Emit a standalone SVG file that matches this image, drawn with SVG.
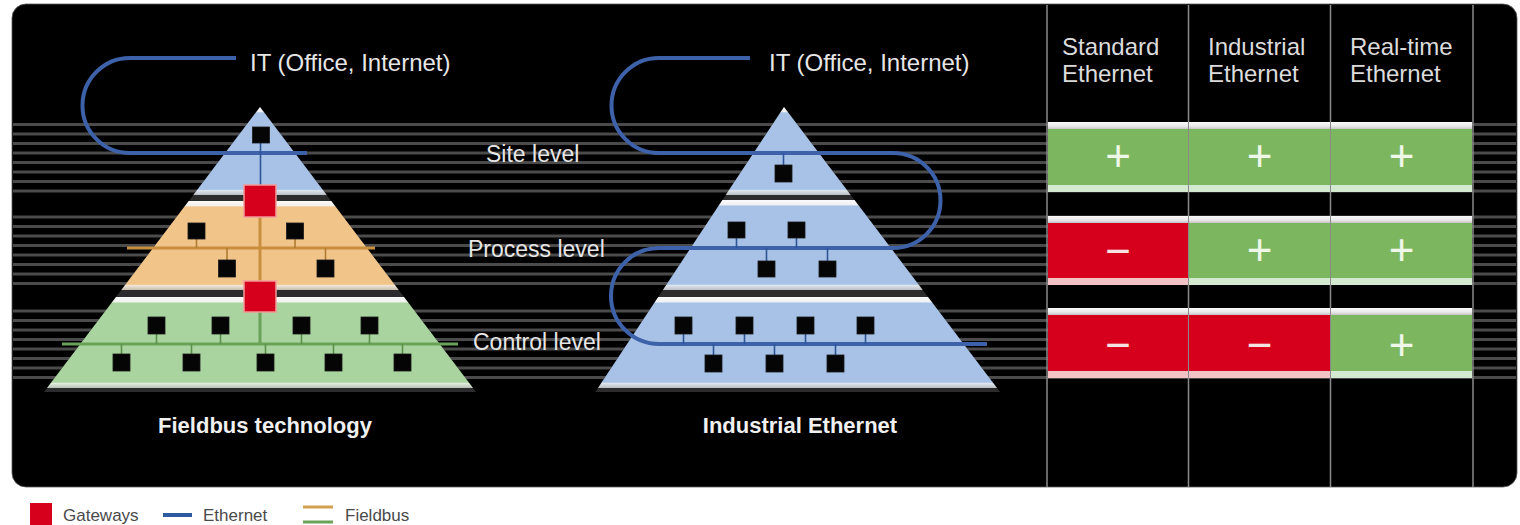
<svg xmlns="http://www.w3.org/2000/svg" width="1520" height="525" viewBox="0 0 1520 525">
<style>
text{font-family:"Liberation Sans",Arial,sans-serif}
.lbl{fill:#e6e6e6;font-size:23px}
.it{fill:#e6e6e6;font-size:24px}
.hdr{fill:#dcdcdc;font-size:24px}
.ttl{fill:#f0f0f0;font-size:22px;font-weight:bold}
.leg{fill:#4a4a4a;font-size:17px}
.pm{font-size:44px;text-anchor:middle}
.pp{fill:#eef7e8}
.mm{fill:#f7e2e2}
.dev{fill:#050505;stroke:#1a1a1a;stroke-width:0.8}
.gw{fill:#d6001c;stroke:#f29a9a;stroke-width:1.5}
.eth{fill:none;stroke:#3d62aa;stroke-width:4}
.ethT{fill:none;stroke:#2f5599;stroke-width:1.6}
.fbO{fill:none;stroke:#c8903e;stroke-width:3}
.fbOT{fill:none;stroke:#b07a30;stroke-width:1.6}
.fbG{fill:none;stroke:#6aa259;stroke-width:3}
.fbGT{fill:none;stroke:#5a9049;stroke-width:1.6}
.sil{fill:#2c2c2c}
.top{fill:url(#gTop)}
.grn{fill:#7cb65e}
.red{fill:#d6001c}
.gb{fill:#d4ead0}
.rb{fill:#f3c2c4}
.div{stroke:#8a8a8a;stroke-width:1.5}
</style>
<defs>
<linearGradient id="gBlue" x1="0" y1="0" x2="0" y2="1">
<stop offset="0" stop-color="#fafafa"/><stop offset="0.055" stop-color="#eef0f3"/><stop offset="0.066" stop-color="#a7c2e6"/><stop offset="0.935" stop-color="#a7c2e6"/><stop offset="0.95" stop-color="#dfe5ec"/><stop offset="1" stop-color="#b9bec4"/>
</linearGradient>
<linearGradient id="gOrange" x1="0" y1="0" x2="0" y2="1">
<stop offset="0" stop-color="#fafafa"/><stop offset="0.055" stop-color="#f2efe9"/><stop offset="0.066" stop-color="#f1c58a"/><stop offset="0.935" stop-color="#f1c58a"/><stop offset="0.95" stop-color="#f1e6d6"/><stop offset="1" stop-color="#c4bcb0"/>
</linearGradient>
<linearGradient id="gGreen" x1="0" y1="0" x2="0" y2="1">
<stop offset="0" stop-color="#fafafa"/><stop offset="0.055" stop-color="#eef2ec"/><stop offset="0.066" stop-color="#a9d49f"/><stop offset="0.935" stop-color="#a9d49f"/><stop offset="0.95" stop-color="#e0ecdc"/><stop offset="1" stop-color="#b8c0b6"/>
</linearGradient>
<linearGradient id="gTop" x1="0" y1="0" x2="0" y2="1">
<stop offset="0" stop-color="#fbfbfb"/><stop offset="0.6" stop-color="#e8e8e8"/><stop offset="1" stop-color="#c4c4c4"/>
</linearGradient>
</defs>

<rect x="0" y="0" width="1520" height="525" fill="#ffffff"/>
<rect id="panel" x="12" y="4" width="1505" height="483" rx="14" fill="#000000" stroke="#5a5a5a" stroke-width="0.8"/>

<g id="stripes">
<path stroke="#4b4b4b" stroke-width="3" fill="none" d="M13 124.5H1516M13 134H1516M13 143.5H1516M13 153H1516M13 162.5H1516M13 172H1516M13 181.5H1516M13 191H1516M13 217H1516M13 226.5H1516M13 236H1516M13 245.5H1516M13 255H1516M13 264.5H1516M13 274H1516M13 283.5H1516M13 311H1516M13 320.5H1516M13 330H1516M13 339.5H1516M13 349H1516M13 358.5H1516M13 368H1516M13 377.5H1516"/>
</g>

<g id="pyramid-fieldbus">
<polygon class="sil" points="260,107 476,392 44,392"/>
<polygon id="fb-site" fill="url(#gBlue)" points="260,107 326.7,195 193.3,195"/>
<polygon id="fb-process" fill="url(#gOrange)" points="188.7,201 331.3,201 398.7,290 121.3,290"/>
<polygon id="fb-control" fill="url(#gGreen)" points="116,297 404,297 473,388 47,388"/>
</g>

<g id="pyramid-ethernet">
<polygon class="sil" points="784,107 1000,392 595.3,392"/>
<polygon id="ie-site" fill="url(#gBlue)" points="784,107 850.7,195 725.7,195"/>
<polygon id="ie-process" fill="url(#gBlue)" points="722.4,200 854.5,200 922.7,290 662.9,290"/>
<polygon id="ie-control" fill="url(#gBlue)" points="658.2,297 928,297 997,388 598,388"/>
</g>

<g id="connectors">
<path class="eth" d="M236 58H130A47.5 47.5 0 0 0 130 153H307"/>
<path class="ethT" d="M260.5 143V185"/>
<path class="fbO" d="M127 248H375"/>
<path class="fbO" d="M260 217V281"/>
<path class="fbOT" d="M196.5 239V248M295 239V248M227 248V260M325.5 248V260"/>
<path class="fbG" d="M62 344H458"/>
<path class="fbG" d="M260 312V344"/>
<path class="fbGT" d="M156.5 334V344M220.5 334V344M301.5 334V344M369.5 334V344M121.5 344V354M191.5 344V354M265.5 344V354M333.5 344V354M402.5 344V354"/>
<path class="eth" d="M750 58H659A47.5 47.5 0 0 0 659 153H893A47.5 47.5 0 0 1 893 248H659A48 48 0 0 0 659 344H987"/>
<path class="ethT" d="M783.5 153V165M736.5 238V248M796.5 238V248M766.5 248V261M827.5 248V261M683.5 334V344M744.5 334V344M805.5 334V344M865.5 334V344M713.5 344V355M774.5 344V355M835.5 344V355"/>
</g>

<g id="fieldbus-nodes">
<rect class="dev" x="252.5" y="127" width="17" height="16"/>
<rect id="gateway-1" class="gw" x="244" y="185" width="32" height="32"/>
<rect class="dev" x="188" y="223" width="17" height="16"/>
<rect class="dev" x="286.5" y="223" width="17" height="16"/>
<rect class="dev" x="218.5" y="260" width="17" height="17"/>
<rect class="dev" x="317" y="260" width="17" height="17"/>
<rect id="gateway-2" class="gw" x="244" y="281" width="32" height="31"/>
<rect class="dev" x="148" y="317" width="17" height="17"/>
<rect class="dev" x="212" y="317" width="17" height="17"/>
<rect class="dev" x="293" y="317" width="17" height="17"/>
<rect class="dev" x="361" y="317" width="17" height="17"/>
<rect class="dev" x="113" y="354" width="17" height="17"/>
<rect class="dev" x="183" y="354" width="17" height="17"/>
<rect class="dev" x="257" y="354" width="17" height="17"/>
<rect class="dev" x="325" y="354" width="17" height="17"/>
<rect class="dev" x="394" y="354" width="17" height="17"/>
</g>

<g id="ethernet-nodes">
<rect class="dev" x="775" y="165" width="17" height="17"/>
<rect class="dev" x="728" y="222" width="17" height="16"/>
<rect class="dev" x="788" y="222" width="17" height="16"/>
<rect class="dev" x="758" y="261" width="17" height="16"/>
<rect class="dev" x="819" y="261" width="17" height="16"/>
<rect class="dev" x="675" y="317" width="17" height="17"/>
<rect class="dev" x="736" y="317" width="17" height="17"/>
<rect class="dev" x="797" y="317" width="17" height="17"/>
<rect class="dev" x="857" y="317" width="17" height="17"/>
<rect class="dev" x="705" y="355" width="17" height="17"/>
<rect class="dev" x="766" y="355" width="17" height="17"/>
<rect class="dev" x="827" y="355" width="17" height="17"/>
</g>

<g id="labels">
<text class="it" x="250" y="71">IT (Office, Internet)</text>
<text class="it" x="769" y="71">IT (Office, Internet)</text>
<text class="lbl" x="486" y="162">Site level</text>
<text class="lbl" x="468" y="257">Process level</text>
<text class="lbl" x="473" y="350">Control level</text>
<text class="ttl" x="265" y="433" text-anchor="middle">Fieldbus technology</text>
<text class="ttl" x="800" y="433" text-anchor="middle">Industrial Ethernet</text>
</g>

<g id="table">
<g id="dividers">
<line class="div" x1="1047" y1="5" x2="1047" y2="487"/>
<line class="div" x1="1188.5" y1="5" x2="1188.5" y2="487"/>
<line class="div" x1="1330.5" y1="5" x2="1330.5" y2="487"/>
<line class="div" x1="1473" y1="5" x2="1473" y2="487"/>
</g>
<g id="headers">
<text class="hdr" x="1062" y="55">Standard</text>
<text class="hdr" x="1062" y="82">Ethernet</text>
<text class="hdr" x="1208" y="55">Industrial</text>
<text class="hdr" x="1208" y="82">Ethernet</text>
<text class="hdr" x="1350" y="55">Real-time</text>
<text class="hdr" x="1350" y="82">Ethernet</text>
</g>
<g id="row-site">
<rect class="top" x="1048" y="122" width="140" height="7"/><rect class="grn" x="1048" y="129" width="140" height="56"/><rect class="gb" x="1048" y="185" width="140" height="7"/>
<rect class="top" x="1189" y="122" width="141" height="7"/><rect class="grn" x="1189" y="129" width="141" height="56"/><rect class="gb" x="1189" y="185" width="141" height="7"/>
<rect class="top" x="1331" y="122" width="141" height="7"/><rect class="grn" x="1331" y="129" width="141" height="56"/><rect class="gb" x="1331" y="185" width="141" height="7"/>
<text class="pm pp" x="1118" y="171">+</text>
<text class="pm pp" x="1259.5" y="171">+</text>
<text class="pm pp" x="1401.5" y="171">+</text>
</g>
<g id="row-process">
<rect class="top" x="1048" y="216" width="140" height="7"/><rect class="red" x="1048" y="223" width="140" height="55"/><rect class="rb" x="1048" y="278" width="140" height="7"/>
<rect class="top" x="1189" y="216" width="141" height="7"/><rect class="grn" x="1189" y="223" width="141" height="55"/><rect class="gb" x="1189" y="278" width="141" height="7"/>
<rect class="top" x="1331" y="216" width="141" height="7"/><rect class="grn" x="1331" y="223" width="141" height="55"/><rect class="gb" x="1331" y="278" width="141" height="7"/>
<text class="pm mm" x="1118" y="266">−</text>
<text class="pm pp" x="1259.5" y="265">+</text>
<text class="pm pp" x="1401.5" y="265">+</text>
</g>
<g id="row-control">
<rect class="top" x="1048" y="308" width="140" height="7"/><rect class="red" x="1048" y="315" width="140" height="56"/><rect class="rb" x="1048" y="371" width="140" height="7"/>
<rect class="top" x="1189" y="308" width="141" height="7"/><rect class="red" x="1189" y="315" width="141" height="56"/><rect class="rb" x="1189" y="371" width="141" height="7"/>
<rect class="top" x="1331" y="308" width="141" height="7"/><rect class="grn" x="1331" y="315" width="141" height="56"/><rect class="gb" x="1331" y="371" width="141" height="7"/>
<text class="pm mm" x="1118" y="360">−</text>
<text class="pm mm" x="1259.5" y="360">−</text>
<text class="pm pp" x="1401.5" y="360">+</text>
</g>
</g>

<g id="legend">
<rect x="30" y="503" width="22" height="22" fill="#d6001c"/>
<text class="leg" x="63" y="521">Gateways</text>
<line x1="163" y1="515" x2="192" y2="515" stroke="#2e5aa0" stroke-width="4"/>
<text class="leg" x="203" y="521">Ethernet</text>
<line x1="303" y1="507" x2="333" y2="507" stroke="#d4a050" stroke-width="3"/>
<line x1="303" y1="522" x2="333" y2="522" stroke="#6aa259" stroke-width="3"/>
<text class="leg" x="345" y="521">Fieldbus</text>
</g>
</svg>
